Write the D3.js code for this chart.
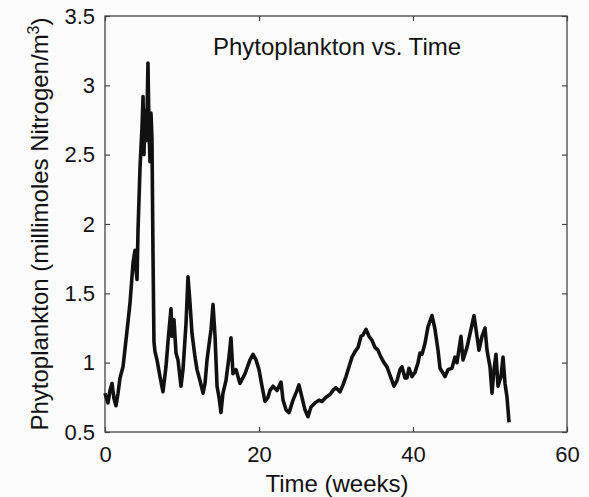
<!DOCTYPE html>
<html>
<head>
<meta charset="utf-8">
<script src="https://cdn.jsdelivr.net/npm/d3@7"></script>
<style>
  html, body { margin: 0; padding: 0; background: #fcfcfc; }
  svg { display: block; }
  text { font-family: "Liberation Sans", Arial, Helvetica, sans-serif; fill: #111; }
</style>
</head>
<body>
<svg id="chart" width="589" height="497"></svg>
<script>
// ---- data ----
const timeWeeks = [0,0.39,0.65,0.91,1.17,1.43,1.69,1.95,2.34,2.86,3.25,3.64,3.90,4.03,4.16,4.29,4.55,4.81,4.94,5.06,
  5.19,5.32,5.45,5.58,5.71,5.84,5.97,6.10,6.23,6.36,6.49,6.75,7.14,7.53,7.92,8.18,8.44,8.57,8.70,8.96,
  9.22,9.48,9.87,10.13,10.52,10.78,11.04,11.30,11.69,11.95,12.34,12.73,12.99,13.25,13.77,14.03,14.29,14.55,14.81,15.06,
  15.32,15.71,16.10,16.36,16.62,17.01,17.53,18.18,18.83,19.22,19.61,20.00,20.39,20.78,21.17,21.43,21.82,22.34,22.86,23.12,
  23.51,23.90,24.42,24.94,25.19,25.58,25.97,26.36,26.75,27.27,27.79,28.18,28.70,29.22,29.61,30.00,30.52,30.91,31.30,31.69,
  32.08,32.47,32.86,33.25,33.51,33.90,34.29,34.68,35.06,35.45,35.84,36.23,36.62,37.01,37.53,37.92,38.31,38.57,38.96,39.22,
  39.48,39.87,40.26,40.65,40.91,41.17,41.56,41.95,42.47,42.86,43.25,43.51,44.16,44.55,45.06,45.45,45.71,46.23,46.49,47.01,
  47.53,47.92,48.31,48.57,48.96,49.35,49.61,50.00,50.26,50.52,50.78,51.04,51.43,51.69,51.95,52.21,52.47];
const phytoplankton = [0.78,0.71,0.80,0.85,0.74,0.69,0.78,0.89,0.97,1.23,1.43,1.72,1.81,1.67,1.60,1.96,2.41,2.70,2.92,2.50,
  2.82,2.60,2.75,3.16,2.70,2.45,2.80,2.62,1.80,1.15,1.08,1.02,0.90,0.79,0.97,1.15,1.31,1.39,1.19,1.31,
  1.07,1.02,0.83,0.95,1.28,1.62,1.43,1.21,1.04,0.95,0.87,0.78,0.85,1.02,1.24,1.42,1.19,0.83,0.75,0.64,
  0.78,0.87,1.04,1.18,0.92,0.95,0.85,0.92,1.02,1.06,1.02,0.95,0.83,0.72,0.75,0.80,0.83,0.80,0.86,0.73,
  0.66,0.64,0.73,0.80,0.84,0.75,0.66,0.61,0.68,0.71,0.73,0.72,0.75,0.77,0.80,0.82,0.79,0.84,0.90,0.97,
  1.04,1.08,1.11,1.19,1.20,1.24,1.19,1.16,1.11,1.09,1.04,1.00,0.97,0.91,0.83,0.87,0.95,0.97,0.89,0.89,
  0.96,0.90,0.93,1.00,1.07,1.06,1.14,1.26,1.34,1.24,1.09,0.96,0.90,0.95,0.96,1.04,1.00,1.19,1.02,1.11,
  1.24,1.34,1.19,1.09,1.19,1.25,1.09,0.97,0.78,0.95,1.06,0.83,0.90,1.04,0.85,0.75,0.57];
const xTicks = [0, 20, 40, 60];
const yTicks = [0.5, 1, 1.5, 2, 2.5, 3, 3.5];
const titleText = "Phytoplankton vs. Time";
const xLabel = "Time (weeks)";

// ---- layout ----
const svg = d3.select("#chart");
const W = 589, H = 497;
const m = { left: 105, right: 22, top: 16, bottom: 65 };
const pw = W - m.left - m.right, ph = H - m.top - m.bottom;

svg.append("rect").attr("width", W).attr("height", H).attr("fill", "#fcfcfc");

const x = d3.scaleLinear().domain([0, 60]).range([m.left, m.left + pw]);
const y = d3.scaleLinear().domain([0.5, 3.5]).range([m.top + ph, m.top]);

const g = svg.append("g");
const tickLen = 5;
const axisColor = "#444";

// box
g.append("rect").attr("x", m.left).attr("y", m.top).attr("width", pw).attr("height", ph)
  .attr("fill", "none").attr("stroke", axisColor).attr("stroke-width", 1.3);

// axes (ticks inward, labels outside)
const bottomAxis = d3.axisBottom(x).tickValues(xTicks).tickFormat(d3.format("d")).tickSizeInner(-tickLen).tickSizeOuter(0).tickPadding(14);
const leftAxis = d3.axisLeft(y).tickValues(yTicks).tickFormat(d => d3.format("")(d)).tickSizeInner(-tickLen).tickSizeOuter(0).tickPadding(10);
const topAxis = d3.axisTop(x).tickValues(xTicks).tickFormat("").tickSizeInner(-tickLen).tickSizeOuter(0);
const rightAxis = d3.axisRight(y).tickValues(yTicks).tickFormat("").tickSizeInner(-tickLen).tickSizeOuter(0);

function style(sel) {
  sel.select(".domain").remove();
  sel.selectAll(".tick line").attr("stroke", axisColor).attr("stroke-width", 1.2);
  sel.selectAll(".tick text").style("font-size", "22px").style("font-family", '"Liberation Sans", Arial, sans-serif').attr("fill", "#111");
}
g.append("g").attr("transform", `translate(0,${m.top + ph})`).call(bottomAxis).call(style)
  .selectAll(".tick text").attr("dy", "0.71em");
g.append("g").attr("transform", `translate(${m.left},0)`).call(leftAxis).call(style);
g.append("g").attr("transform", `translate(0,${m.top})`).call(topAxis).call(style);
g.append("g").attr("transform", `translate(${m.left + pw},0)`).call(rightAxis).call(style);

// series
const data = timeWeeks.map((t, i) => [t, phytoplankton[i]]);
const line = d3.line().x(d => x(d[0])).y(d => y(d[1]));
g.append("path").datum(data).attr("d", line)
  .attr("fill", "none").attr("stroke", "#111").attr("stroke-width", 3.6)
  .attr("stroke-linejoin", "round").attr("stroke-linecap", "butt");

// title
svg.append("text").attr("x", 337).attr("y", 55).attr("text-anchor", "middle")
  .style("font-size", "24px").text(titleText);

// x label
svg.append("text").attr("x", 337).attr("y", 492).attr("text-anchor", "middle")
  .style("font-size", "24px").text(xLabel);

// y label with superscript
const yl = svg.append("text").attr("transform", `translate(48,${m.top + ph / 2}) rotate(-90)`)
  .attr("text-anchor", "middle").style("font-size", "24px");
yl.append("tspan").text("Phytoplankton (millimoles Nitrogen/m");
yl.append("tspan").attr("dy", -9).style("font-size", "16px").text("3");
yl.append("tspan").attr("dy", 9).text(")");
</script>
</body>
</html>
